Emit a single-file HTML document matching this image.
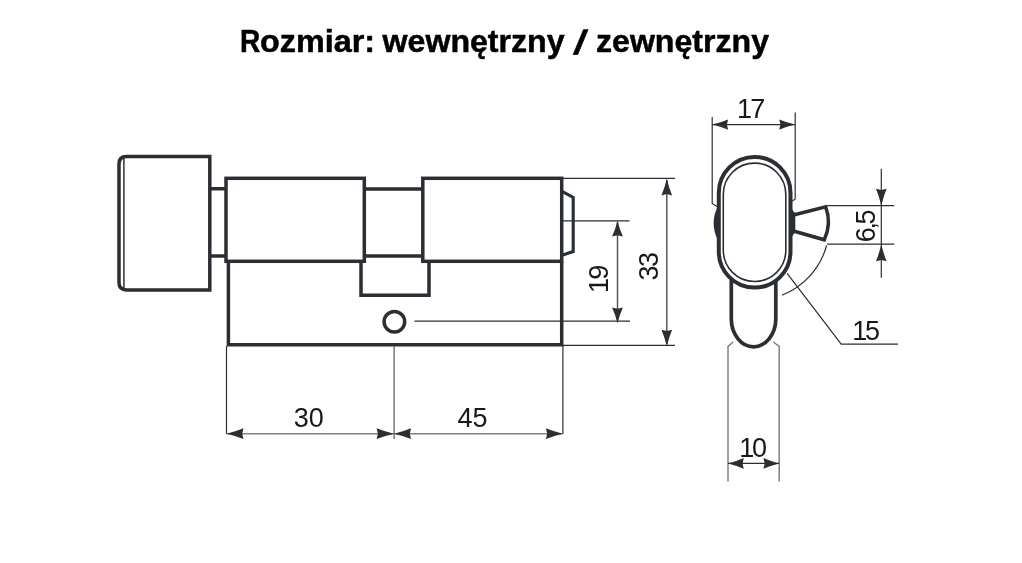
<!DOCTYPE html>
<html lang="pl">
<head>
<meta charset="utf-8">
<title>Rozmiar: wewnętrzny / zewnętrzny</title>
<style>
html,body{margin:0;padding:0;background:#fff;}
body{width:1022px;height:563px;overflow:hidden;position:relative;font-family:"Liberation Sans",sans-serif;}
svg{position:absolute;left:0;top:0;display:block;will-change:transform;}
text{font-family:"Liberation Sans",sans-serif;fill:#17181b;}
.t text{font-family:"Liberation Sans",sans-serif;font-weight:bold;font-size:31px;fill:#000;stroke:#000;stroke-width:0.5px;stroke-linejoin:round;}
.d{font-size:27px;}
.m{fill:none;stroke:#2b2e33;stroke-width:3.5;stroke-linejoin:miter;stroke-linecap:butt;}
.n{fill:none;stroke:#2b2e33;stroke-width:1.2;}
.g{fill:none;stroke:#808080;stroke-width:1.6;}
.a{fill:#2b2e33;stroke:none;}
</style>
</head>
<body>
<svg width="1022" height="563" viewBox="0 0 1022 563">
<rect width="1022" height="563" fill="#fff"/>
<g class="t"><text x="240" y="51.8"><tspan textLength="20.3" lengthAdjust="spacingAndGlyphs">R</tspan><tspan x="260.1" textLength="115" lengthAdjust="spacingAndGlyphs">ozmiar:</tspan></text><text x="382.6" y="51.8" textLength="182" lengthAdjust="spacingAndGlyphs">wewnętrzny</text><text transform="translate(572.8 54.2) skewX(-11)" textLength="11" lengthAdjust="spacingAndGlyphs" style="font-size:34px">/</text><text x="596" y="51.8" textLength="173" lengthAdjust="spacingAndGlyphs">zewnętrzny</text></g>
<!-- side view: knob -->
<path class="m" d="M209.8 156.6H126.5Q119 156.6 119 164V282.5Q119 289.9 126.5 289.9H209.8Z"/>
<path class="n" style="stroke-width:1.5" d="M123.9 158V288.5"/>
<path class="m" d="M209.8 188.8H226M209.8 256H226"/>
<rect class="m" x="226" y="178.3" width="138.3" height="83"/>
<path class="m" d="M364.3 189H422.8M364.3 256H422.8"/>
<rect class="m" x="422.8" y="178.3" width="138.9" height="83"/>
<path class="m" d="M228.4 261.3V344.8H561.7V261.3"/>
<path class="m" d="M361 261.3V295.3H429V261.3"/>
<path class="m" style="stroke-width:3.1" d="M562 191.3L573.2 197.4V251.6L562 255.2"/>
<circle class="m" cx="394.4" cy="321.8" r="10.3"/>
<!-- side view dims -->
<path class="n" d="M562 178.4H675M562 220.8H629.5M414.5 321.2H630M562 345.4H675"/>
<path class="n" style="stroke:#55575b;stroke-width:1.5" d="M617.5 222V320M666.8 180V344"/>
<path class="n" d="M226.5 346V434M562.9 346V434"/>
<path class="g" style="stroke:#6c6c6e;stroke-width:1.4" d="M394.1 346V439"/><path class="g" d="M226.5 433.7H562.9"/>
<path class="a" d="M617.5 220.8Q615.6 228.7 612.1 236.5L617.5 235.2L622.9 236.5Q619.4 228.7 617.5 220.8Z"/>
<path class="a" d="M617.5 323.2Q615.6 315.3 612.1 307.4L617.5 308.7L622.9 307.4Q619.4 315.3 617.5 323.2Z"/>
<path class="a" d="M666.8 178.4Q664.9 186.9 661.5 195.4L666.8 194.1L672.1 195.4Q668.7 186.9 666.8 178.4Z"/>
<path class="a" d="M666.8 346.6Q664.9 338.2 661.5 329.8L666.8 331.1L672.1 329.8Q668.7 338.2 666.8 346.6Z"/>
<path class="a" d="M226.5 433.7Q235.0 431.8 243.5 428.3L242.2 433.7L243.5 439.1Q235.0 435.6 226.5 433.7Z"/>
<path class="a" d="M394.1 433.7Q385.4 431.8 376.6 428.3L377.9 433.7L376.6 439.1Q385.4 435.6 394.1 433.7Z"/>
<path class="a" d="M394.1 433.7Q402.6 431.8 411.1 428.3L409.8 433.7L411.1 439.1Q402.6 435.6 394.1 433.7Z"/>
<path class="a" d="M562.9 433.7Q554.4 431.8 545.9 428.3L547.2 433.7L545.9 439.1Q554.4 435.6 562.9 433.7Z"/>
<text class="d" x="293.7" y="426.8">30</text>
<text class="d" x="457.6" y="426.8">45</text>
<text class="d" transform="translate(608.4 293) rotate(-90)" style="letter-spacing:-1.8px">19</text>
<text class="d" transform="translate(658 280.4) rotate(-90)" style="letter-spacing:-1.5px">33</text>
<!-- end view -->
<path class="m" style="stroke-width:4" d="M718.80 192.75A35.85 35.85 0 0 1 790.50 192.75V251.75A35.85 35.85 0 0 1 718.80 251.75Z"/>
<path class="n" style="stroke-width:1.6" d="M723.30 194.35A31.25 31.25 0 0 1 785.80 194.35V250.25A31.25 31.25 0 0 1 723.30 250.25Z"/>
<path class="m" style="stroke-width:3.7" d="M731.3 280V318.8A22.25 28 0 0 0 775.8 318.8V280"/>
<path class="a" d="M717.8 206.5Q709.4 223 717.8 240Z"/><path class="a" d="M791 206Q792.5 211.5 795.3 213V232.8Q792.5 234.2 791 239.5Z"/>
<path class="m" style="stroke-width:3.5" d="M792.5 215.2L825.7 206.9Q831.8 223.7 824.3 239.8L792.5 230.7"/>
<path class="n" d="M826.6 245.5A74.5 74.5 0 0 1 782 295.2"/>
<path class="n" d="M787.1 273.3L841.2 344.2H898"/>
<path class="n" d="M716.9 206.4L712.2 203.4V116.9M792 201.4L795.2 198.9V112.5M712.15 124.6H795.2"/>
<path class="a" d="M712.1 124.6Q720.1 122.7 728.1 119.4L726.9 124.6L728.1 129.8Q720.1 126.5 712.1 124.6Z"/>
<path class="a" d="M795.2 124.6Q787.2 122.7 779.2 119.4L780.5 124.6L779.2 129.8Q787.2 126.5 795.2 124.6Z"/>
<text class="d" x="737" y="118.2" style="letter-spacing:-1.7px">17</text>
<path class="n" d="M827.2 205.7H894.3M827 244.2H894.3M881.3 168.8V277.7"/>
<path class="a" d="M881.3 205.7Q879.4 197.2 876.0 188.7L881.3 190.0L886.6 188.7Q883.2 197.2 881.3 205.7Z"/>
<path class="a" d="M881.3 244.2Q879.4 252.7 876.0 261.2L881.3 259.9L886.6 261.2Q883.2 252.7 881.3 244.2Z"/>
<text class="d" transform="translate(875.1 242.3) rotate(-90)" style="letter-spacing:-2.3px">6,5</text>
<text class="d" x="852.3" y="339.7" style="letter-spacing:-2.4px">15</text>
<path class="g" style="stroke-width:1.5" d="M733.2 342L728 346.3V481.4M773.3 342L779.2 346.3V481.4"/>
<path class="n" d="M728 463.4H779.2"/>
<path class="a" d="M728.0 463.4Q735.9 461.5 743.8 458.0L742.5 463.4L743.8 468.8Q735.9 465.3 728.0 463.4Z"/>
<path class="a" d="M779.2 463.4Q771.3 461.5 763.4 458.0L764.7 463.4L763.4 468.8Q771.3 465.3 779.2 463.4Z"/>
<text class="d" x="739.2" y="457" style="letter-spacing:-2.2px">10</text>
</svg>
</body>
</html>
